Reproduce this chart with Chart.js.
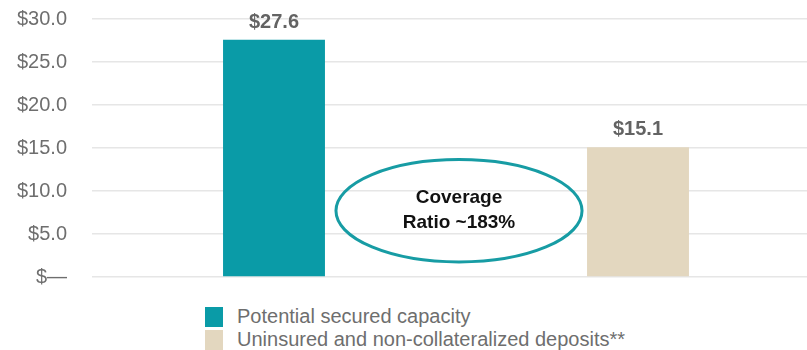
<!DOCTYPE html>
<html lang="en">
<head>
    <meta charset="UTF-8">
    <title>Secured capacity vs uninsured deposits</title>
    <script src="https://cdn.jsdelivr.net/npm/chart.js"></script>
    <style>
        html, body {
            margin: 0;
            padding: 0;
            background: #ffffff;
            overflow: hidden;
            font-family: "Liberation Sans", Arial, sans-serif;
        }
        #chart-box {
            position: relative;
            width: 822px;
            height: 296px;
        }
        #legend {
            margin: 9px 0 0 205px;
        }
        .legend-item {
            display: flex;
            align-items: center;
            height: 23px;
            font-size: 20px;
            color: #6e6e6e;
        }
        .legend-box {
            width: 18px;
            height: 20px;
            margin-right: 14px;
        }
    </style>
</head>
<body>
    <div id="chart-box">
        <canvas id="coverageChart"></canvas>
    </div>
    <div id="legend"></div>
    <script>
        // values in $ billions
        const categories = ['Potential secured capacity', 'Uninsured and non-collateralized deposits'];
        const seriesNames = ['Potential secured capacity', 'Uninsured and non-collateralized deposits**'];
        const securedCapacity = [27.6, null];
        const uninsuredDeposits = [null, 15.1];
        const yTicks = [0, 5, 10, 15, 20, 25, 30];
        const ratioText = ['Coverage', 'Ratio ~183%'];

        const teal = '#0a9ba7';
        const beige = '#e3d7bf';

        function money(v) {
            return v === 0 ? '$\u2014' : '$' + v.toFixed(1);
        }

        // value labels above each bar
        const barLabels = {
            id: 'barLabels',
            afterDatasetsDraw(chart) {
                const ctx = chart.ctx;
                ctx.save();
                ctx.font = 'bold 20px "Liberation Sans", Arial, sans-serif';
                ctx.fillStyle = '#636363';
                ctx.textAlign = 'center';
                ctx.textBaseline = 'alphabetic';
                chart.data.datasets.forEach((ds, i) => {
                    chart.getDatasetMeta(i).data.forEach((bar, j) => {
                        const v = ds.data[j];
                        if (v == null) return;
                        ctx.fillText(money(v), bar.x, bar.y - 12);
                    });
                });
                ctx.restore();
            }
        };

        // the coverage ratio callout between the bars
        const ratioOval = {
            id: 'ratioOval',
            afterDatasetsDraw(chart) {
                const ctx = chart.ctx;
                const x = chart.scales.x;
                const y = chart.scales.y;
                const a = x.getPixelForValue(0);
                const b = x.getPixelForValue(1);
                const cx = (a + b) / 2 + 3;
                const cy = y.getPixelForValue(7.7);
                const rx = (b - a) * 0.338;
                const ry = y.getPixelForValue(0) - y.getPixelForValue(5.95);
                ctx.save();
                ctx.beginPath();
                ctx.ellipse(cx, cy, rx, ry, 0, 0, Math.PI * 2);
                ctx.lineWidth = 3;
                ctx.strokeStyle = '#179ca4';
                ctx.stroke();
                ctx.font = 'bold 19px "Liberation Sans", Arial, sans-serif';
                ctx.fillStyle = '#111111';
                ctx.textAlign = 'center';
                ctx.textBaseline = 'middle';
                ctx.fillText(ratioText[0], cx, cy - 13);
                ctx.fillText(ratioText[1], cx, cy + 12);
                ctx.restore();
            }
        };

        const chart = new Chart(document.getElementById('coverageChart'), {
            type: 'bar',
            data: {
                labels: categories,
                datasets: [
                    { label: seriesNames[0], data: securedCapacity, backgroundColor: teal },
                    { label: seriesNames[1], data: uninsuredDeposits, backgroundColor: beige }
                ]
            },
            options: {
                responsive: true,
                maintainAspectRatio: false,
                animation: false,
                layout: { padding: { top: 19, left: 17, right: 2, bottom: 19 } },
                datasets: {
                    bar: { skipNull: true, categoryPercentage: 1, barPercentage: 0.28 }
                },
                plugins: {
                    legend: { display: false },
                    tooltip: { enabled: false }
                },
                scales: {
                    x: { display: false },
                    y: {
                        min: 0,
                        max: 30,
                        afterBuildTicks(scale) {
                            scale.ticks = yTicks.map(v => ({ value: v }));
                        },
                        afterFit(scale) {
                            scale.width = 75;
                        },
                        border: { display: false },
                        grid: {
                            color: '#e6e6e6',
                            lineWidth: 1.5,
                            tickLength: 20,
                            tickColor: 'rgba(0,0,0,0)'
                        },
                        ticks: {
                            padding: 5,
                            color: '#6e6e6e',
                            font: { family: '"Liberation Sans", Arial, sans-serif', size: 20 },
                            callback: v => money(v)
                        }
                    }
                }
            },
            plugins: [barLabels, ratioOval]
        });

        // legend listed vertically under the plot
        const legend = document.getElementById('legend');
        chart.data.datasets.forEach(ds => {
            const item = document.createElement('div');
            item.className = 'legend-item';
            const box = document.createElement('span');
            box.className = 'legend-box';
            box.style.background = ds.backgroundColor;
            const text = document.createElement('span');
            text.textContent = ds.label;
            item.appendChild(box);
            item.appendChild(text);
            legend.appendChild(item);
        });
    </script>
</body>
</html>
